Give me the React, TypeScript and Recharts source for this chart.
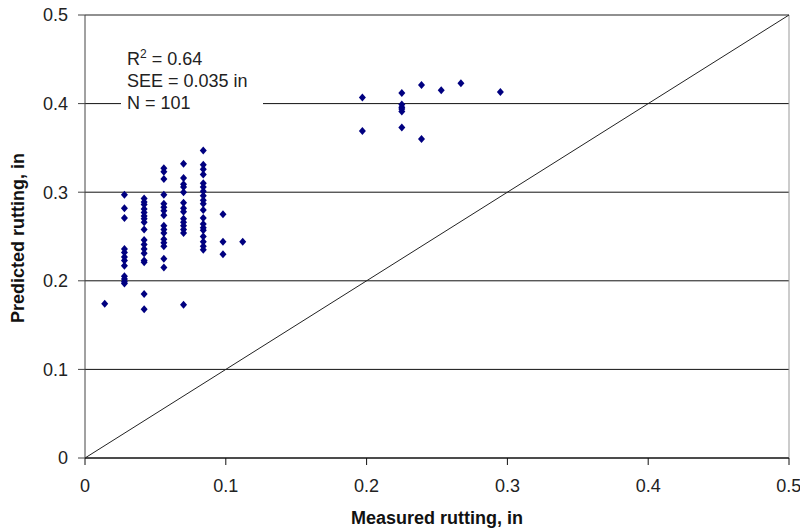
import React from "react";
import {
  ScatterChart,
  Scatter,
  XAxis,
  YAxis,
  CartesianGrid,
  ReferenceLine,
} from "recharts";

// measured rutting (in) for each column of points
const measured = [0.014, 0.028, 0.042, 0.056, 0.07, 0.084, 0.098, 0.112, 0.197, 0.225, 0.239, 0.253, 0.267, 0.295];

// predicted rutting (in) at each measured value
const predicted = [
  [0.174],
  [0.297, 0.282, 0.271, 0.236, 0.232, 0.227, 0.223, 0.217, 0.205, 0.202, 0.199, 0.197],
  [0.293, 0.289, 0.286, 0.281, 0.277, 0.273, 0.27, 0.266, 0.258, 0.246, 0.241, 0.236, 0.231, 0.223, 0.221, 0.185, 0.168],
  [0.327, 0.323, 0.315, 0.297, 0.287, 0.283, 0.279, 0.274, 0.262, 0.258, 0.254, 0.247, 0.243, 0.239, 0.225, 0.215],
  [0.332, 0.316, 0.309, 0.306, 0.3, 0.288, 0.282, 0.278, 0.27, 0.266, 0.262, 0.258, 0.254, 0.173],
  [0.347, 0.331, 0.326, 0.32, 0.31, 0.306, 0.301, 0.296, 0.291, 0.287, 0.28, 0.271, 0.264, 0.26, 0.257, 0.25, 0.244, 0.239, 0.235],
  [0.275, 0.244, 0.23],
  [0.244],
  [0.407, 0.369],
  [0.412, 0.399, 0.396, 0.394, 0.391, 0.373],
  [0.421, 0.36],
  [0.415],
  [0.423],
  [0.413],
];

const ticks = [0, 0.1, 0.2, 0.3, 0.4, 0.5];

const points = measured.flatMap((x, i) => predicted[i].map((y) => ({ x, y })));

const font = "'Liberation Sans', Arial, sans-serif";

function Diamond(props: any) {
  const { cx, cy } = props;
  return (
    <path
      d={`M${cx},${cy - 4} L${cx + 3.5},${cy} L${cx},${cy + 4} L${cx - 3.5},${cy} Z`}
      fill="#000080"
    />
  );
}

export default function App() {
  return (
    <div style={{ position: "absolute", left: 0, top: 0, width: 800, height: 529, background: "#fff" }}>
      <ScatterChart
        width={800}
        height={529}
        margin={{ top: 15, right: 11, bottom: 41, left: 0 }}
        style={{ fontFamily: font }}
      >
        <CartesianGrid vertical={false} stroke="#111" />
        <XAxis
          type="number"
          dataKey="x"
          domain={[0, 0.5]}
          ticks={ticks}
          height={30}
          tickSize={7}
          tickMargin={14}
          stroke="#111"
          tick={{ fill: "#222", fontSize: 18 }}
        />
        <YAxis
          type="number"
          dataKey="y"
          domain={[0, 0.5]}
          ticks={ticks}
          width={85}
          tickSize={7}
          tickMargin={10}
          stroke="#444"
          tick={{ fill: "#222", fontSize: 18 }}
        />
        <ReferenceLine y={0.5} stroke="#999" />
        <ReferenceLine x={0.5} stroke="#999" />
        <ReferenceLine
          segment={[
            { x: 0, y: 0 },
            { x: 0.5, y: 0.5 },
          ]}
          stroke="#222"
        />
        <Scatter data={points} shape={Diamond} isAnimationActive={false} />
      </ScatterChart>
      <svg
        width={800}
        height={529}
        style={{ position: "absolute", left: 0, top: 0, pointerEvents: "none", fontFamily: font }}
      >
        <rect x={121} y={42} width={142} height={72} fill="#fff" />
        <text x={127} y={65} fontSize={18} fill="#222">
          R<tspan dy={-7} fontSize={12}>2</tspan>
          <tspan dy={7}> = 0.64</tspan>
        </text>
        <text x={127} y={87} fontSize={18} fill="#222">
          SEE = 0.035 in
        </text>
        <text x={127} y={109} fontSize={18} fill="#222">
          N = 101
        </text>
        <text x={437} y={524} fontSize={18} fontWeight="bold" textAnchor="middle" fill="#111">
          Measured rutting, in
        </text>
        <text
          x={24}
          y={238}
          fontSize={18}
          fontWeight="bold"
          textAnchor="middle"
          fill="#111"
          transform="rotate(-90 24 238)"
        >
          Predicted rutting, in
        </text>
      </svg>
    </div>
  );
}
